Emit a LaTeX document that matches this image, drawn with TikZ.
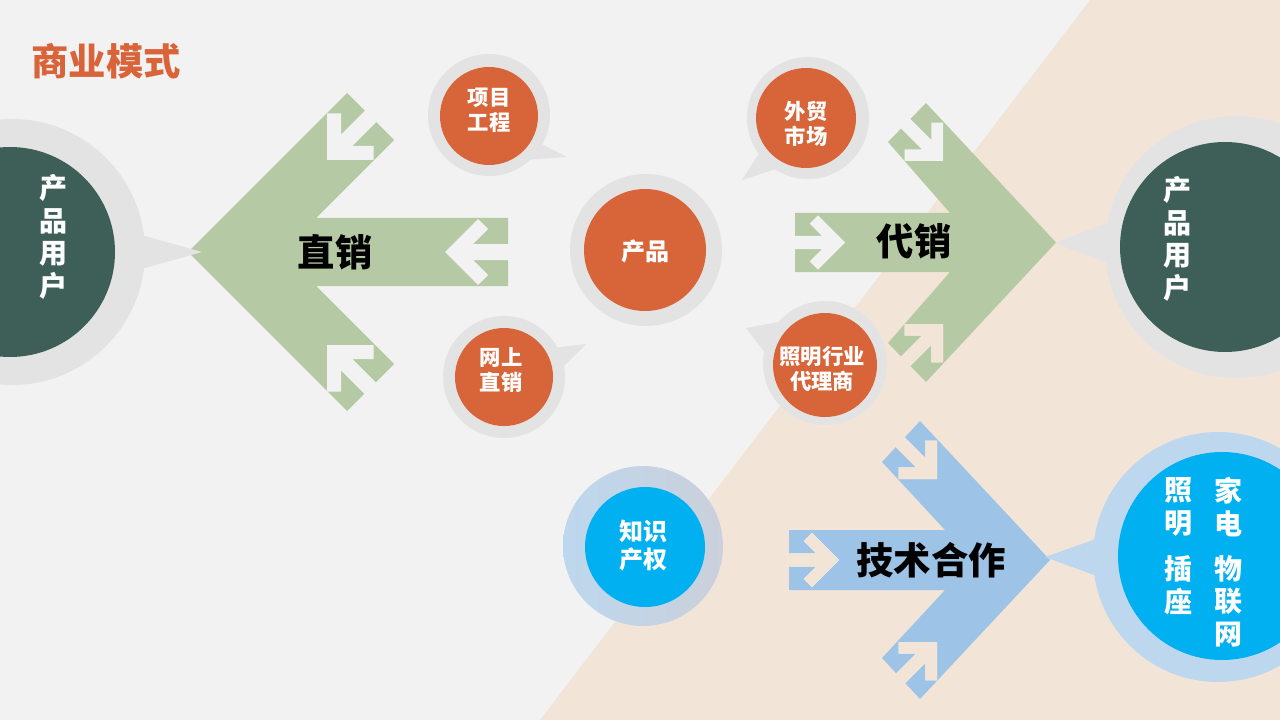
\documentclass[tikz,border=0pt]{standalone}
\usepackage{fontspec}
\newfontfamily\cjk{Noto Sans CJK SC}
\definecolor{bggray}{HTML}{F2F2F2}
\definecolor{bgbeige}{HTML}{F2E5D8}
\definecolor{chgreen}{HTML}{B5CAA4}
\definecolor{chblue}{HTML}{9DC3E6}
\definecolor{orangec}{HTML}{D86539}
\definecolor{halogray}{HTML}{E4E3E3}
\definecolor{tealc}{HTML}{3E5F58}
\definecolor{haloblue}{HTML}{BDD7EE}
\definecolor{haloshadow}{HTML}{CBD0DA}
\definecolor{bluec}{HTML}{00B0F0}
\definecolor{titleor}{HTML}{D9643A}
\newcommand\bgdraw{%
  \fill[bggray] (0,0) rectangle (1280,720);
  \fill[bgbeige] (1090,0) -- (1280,0) -- (1280,720) -- (540,720) -- cycle;}
% x, y, rotation, scale, stem length
\newcommand\knockhole[5]{%
  \begin{scope}
    \clip[shift={(#1,#2)},rotate=#3,scale=#4] (0,0) -- (33,-33) -- (43,-23) -- (28,-8) -- (#5,-8) -- (#5,8) -- (28,8) -- (43,23) -- (33,33) -- cycle;
    \bgdraw
  \end{scope}}
\tikzset{
  bigtxt/.style={font=\cjk\bfseries\fontsize{28}{32}\selectfont, text=black, inner sep=0pt},
  ortxt/.style={font=\cjk\bfseries\fontsize{16}{19}\selectfont, text=white, align=center, inner sep=0pt},
  vtxt/.style={font=\cjk\bfseries\fontsize{21}{24.5}\selectfont, text=white, align=center, inner sep=0pt},
}
\begin{document}
\begin{tikzpicture}[x=0.75pt,y=-0.75pt]
\useasboundingbox (0,0) rectangle (1280,720);
\bgdraw

% chevrons
\fill[chgreen] (508,218) -- (316,218) -- (394,140) -- (347,93) -- (188,252) -- (347,411) -- (394,364) -- (316,286) -- (508,286) -- cycle;
\fill[chgreen] (795,213) -- (950,213) -- (888,142) -- (926,103) -- (1056,242.5) -- (926,382) -- (888,343) -- (950,272) -- (795,272) -- cycle;
\fill[chblue] (789,530) -- (945,530) -- (882,462) -- (920,421) -- (1050,560) -- (920,699) -- (882,658) -- (945,590) -- (789,590) -- cycle;

% knocked-out arrows
\knockhole{327}{160}{45}{1}{67}
\knockhole{445}{252}{0}{1}{66}
\knockhole{327}{345}{-45}{1}{67}
\knockhole{943}{161}{135}{0.82}{68}
\knockhole{845}{242.5}{180}{0.82}{64}
\knockhole{943}{324}{-135}{0.82}{68}
\knockhole{937}{479}{135}{0.82}{67}
\knockhole{839}{560}{180}{0.82}{64}
\knockhole{937}{642}{-135}{0.82}{67}

% halos with pointers
\fill[halogray] (202,252) -- (120,229) -- (120,275) -- cycle;
\fill[halogray] (12,252) circle (133);
\fill[halogray] (1055,243) -- (1125,216) -- (1125,270) -- cycle;
\fill[halogray] (1236,247) circle (131);
\fill[halogray] (646,250) circle (76);
\fill[halogray] (567,157) -- (530,138) -- (510,161) -- cycle;
\fill[halogray] (489,115) circle (61);
\fill[halogray] (586,344) -- (545,349) -- (545,385) -- cycle;
\fill[halogray] (504,377) circle (61);
\fill[halogray] (742,180) -- (760,152) -- (785,166) -- cycle;
\fill[halogray] (808,118) circle (61);
\fill[halogray] (746,328) -- (790,320) -- (775,366) -- cycle;
\fill[halogray] (825,363) circle (62);
\shade[left color=haloblue, right color=haloshadow] (643,546) circle (80);
\fill[haloblue] (1045,557) -- (1110,534) -- (1110,581) -- cycle;
\fill[haloblue] (1218,557) circle (125);

% inner circles
\fill[tealc] (10,252) circle (105);
\fill[tealc] (1225,247) circle (105);
\fill[orangec] (645,250) circle (61);
\fill[orangec] (489,116) circle (49);
\fill[orangec] (504,377) circle (49);
\fill[orangec] (806,118) circle (50);
\fill[orangec] (825,365) circle (52);
\fill[bluec] (645,547) circle (60);
\fill[bluec] (1222,556) circle (104);

% texts
\node[bigtxt, text=titleor] (title) at (106,61) {商业模式};
\node[bigtxt] (zx) at (335,252) {直销};
\node[bigtxt] (dx) at (914,241) {代销};
\node[bigtxt] (js) at (931,560) {技术合作};
\node[vtxt] (userL) at (53,237) {产\\品\\用\\户};
\node[vtxt] (userR) at (1177,239) {产\\品\\用\\户};
\node[ortxt, font=\cjk\bfseries\fontsize{18}{21}\selectfont] (prod) at (645,251) {产品};
\node[ortxt] (xm) at (489,110) {项目\\工程};
\node[ortxt] (ws) at (501,370) {网上\\直销};
\node[ortxt] (wm) at (806,124) {外贸\\市场};
\node[ortxt] (zm) at (822,369) {照明行业\\代理商};
\node[ortxt, font=\cjk\bfseries\fontsize{18}{21}\selectfont] (ip) at (643,546) {知识\\产权};
\node[vtxt] (b1) at (1178,507) {照\\明};
\node[vtxt] (b2) at (1178,585) {插\\座};
\node[vtxt] (b3) at (1228,507) {家\\电};
\node[vtxt] (b4) at (1228,601) {物\\联\\网};
\end{tikzpicture}
\end{document}
